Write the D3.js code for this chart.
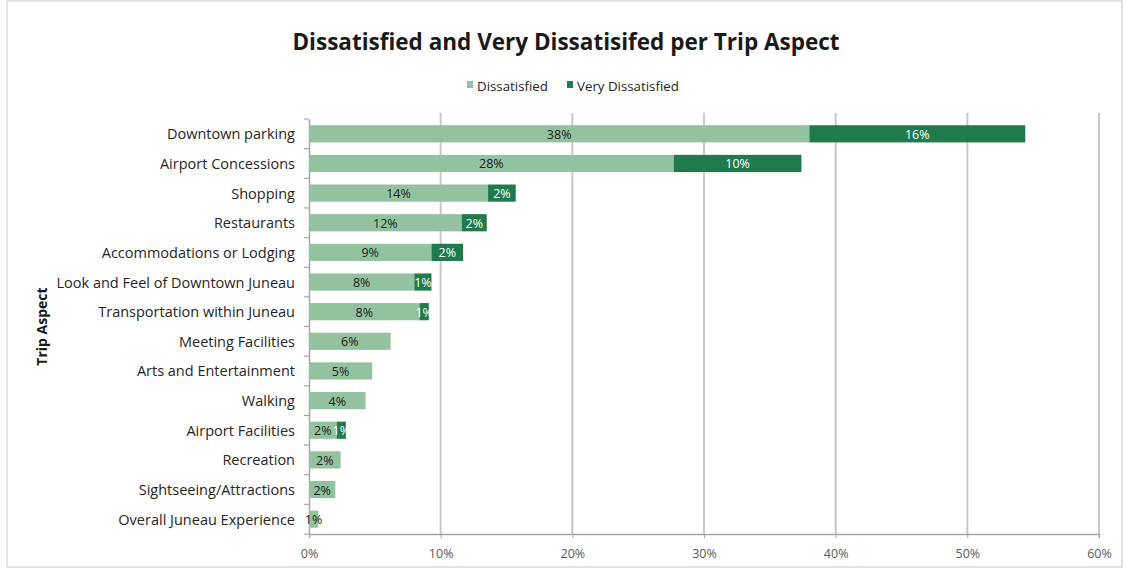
<!DOCTYPE html>
<html><head><meta charset="utf-8">
<script src="https://cdn.jsdelivr.net/npm/d3@7"></script>
<style>
html,body{margin:0;padding:0;background:#fff;}
svg text{font-family:"Open Sans",Lato,sans-serif;}
</style></head>
<body>
<svg id="c" width="1125" height="570"></svg>
<script>
const categories = ["Downtown parking","Airport Concessions","Shopping","Restaurants","Accommodations or Lodging","Look and Feel of Downtown Juneau","Transportation within Juneau","Meeting Facilities","Arts and Entertainment","Walking","Airport Facilities","Recreation","Sightseeing/Attractions","Overall Juneau Experience"];
const dissatisfied = [38.0,27.7,13.6,11.6,9.3,8.0,8.4,6.2,4.8,4.3,2.1,2.4,2.0,0.7];
const veryDissatisfied = [16.4,9.7,2.1,1.9,2.4,1.3,0.7,0,0,0,0.7,0,0,0];
const seriesNames = ["Dissatisfied","Very Dissatisfied"];
const xTicks = [0,10,20,30,40,50,60];
const title = "Dissatisfied and Very Dissatisifed per Trip Aspect";
const yTitle = "Trip Aspect";

const colors = ["#93c39e","#217a4b"];
const svg = d3.select("#c");
const m = {left:309, right:1099, top:119, bottom:534};

// outer border
svg.append("rect").attr("x",7).attr("y",1).attr("width",1115).attr("height",566)
  .attr("fill","none").attr("stroke","#d9d9d9").attr("stroke-width",1.5);

const x = d3.scaleLinear().domain([0,60]).range([m.left,m.right]);
const y = d3.scaleBand().domain(categories).range([m.top,m.bottom]).paddingInner(0.42).paddingOuter(0.21);

// gridlines
svg.append("g").selectAll("line").data(xTicks.slice(1)).join("line")
  .attr("x1",d=>x(d)).attr("x2",d=>x(d)).attr("y1",m.top-6).attr("y2",m.bottom)
  .attr("stroke","#c8c8c8").attr("stroke-width",2);

// x axis
const xAxis = svg.append("g").attr("transform",`translate(0,${m.bottom})`)
  .call(d3.axisBottom(x).tickValues(xTicks).tickFormat(d=>d+"%").tickSize(4).tickPadding(11));
xAxis.select(".domain").attr("stroke","#a6a6a6").attr("stroke-width",1.5);
xAxis.selectAll(".tick line").attr("stroke","#a6a6a6");
xAxis.selectAll("text").attr("fill","#595959").attr("font-size",12.5);

// y axis
const yAxis = svg.append("g").attr("transform",`translate(${m.left},0)`)
  .call(d3.axisLeft(y).tickSize(0).tickPadding(14));
yAxis.select(".domain").attr("stroke","#a6a6a6").attr("stroke-width",1.5);
yAxis.selectAll("text").attr("fill","#262626").attr("font-size",14.5).attr("dy","0.38em");
// category separator ticks
const step = y.step();
svg.append("g").selectAll("line").data(d3.range(categories.length+1)).join("line")
  .attr("x1",m.left-5).attr("x2",m.left)
  .attr("y1",i=>m.top+i*step).attr("y2",i=>m.top+i*step)
  .attr("stroke","#a6a6a6").attr("stroke-width",1.2);

// bars
const rows = categories.map((c,i)=>({c, a:dissatisfied[i], b:veryDissatisfied[i]}));
const g = svg.append("g");
g.selectAll("rect.a").data(rows).join("rect").attr("class","a")
  .attr("x",x(0)).attr("y",d=>y(d.c)).attr("height",y.bandwidth())
  .attr("width",d=>x(d.a)-x(0)).attr("fill",colors[0]);
g.selectAll("rect.b").data(rows.filter(d=>d.b>0)).join("rect").attr("class","b")
  .attr("x",d=>x(d.a)).attr("y",d=>y(d.c)).attr("height",y.bandwidth())
  .attr("width",d=>x(d.a+d.b)-x(d.a)).attr("fill",colors[1]);

// labels
g.selectAll("text.la").data(rows).join("text").attr("class","la")
  .attr("x",d=>(x(0)+x(d.a))/2).attr("y",d=>y(d.c)+y.bandwidth()/2+5)
  .attr("text-anchor","middle").attr("font-size",12.5).attr("fill","#1a1a1a")
  .text(d=>Math.round(d.a)+"%");
g.selectAll("text.lb").data(rows.filter(d=>d.b>0)).join("text").attr("class","lb")
  .attr("x",d=>(x(d.a)+x(d.a+d.b))/2).attr("y",d=>y(d.c)+y.bandwidth()/2+5)
  .attr("text-anchor","middle").attr("font-size",12.5).attr("fill","#ffffff")
  .text(d=>Math.round(d.b)+"%");

// title
svg.append("text").attr("x",566).attr("y",50).attr("text-anchor","middle")
  .attr("font-size",22.5).attr("font-weight","bold").attr("fill","#1a1a1a").text(title);

// legend
const lg = svg.append("g").attr("transform","translate(467,91)");
const lx = [0,100];
seriesNames.forEach((s,i)=>{
  lg.append("rect").attr("x",lx[i]).attr("y",-10).attr("width",6).attr("height",7).attr("fill",colors[i]);
  lg.append("text").attr("x",lx[i]+10).attr("y",0).attr("font-size",13.3).attr("fill","#262626").text(s);
});

// y title
svg.append("text").attr("transform",`translate(47,${(m.top+m.bottom)/2}) rotate(-90)`)
  .attr("text-anchor","middle").attr("font-size",14).attr("font-weight","bold").attr("fill","#1a1a1a").text(yTitle);
</script>
</body></html>
